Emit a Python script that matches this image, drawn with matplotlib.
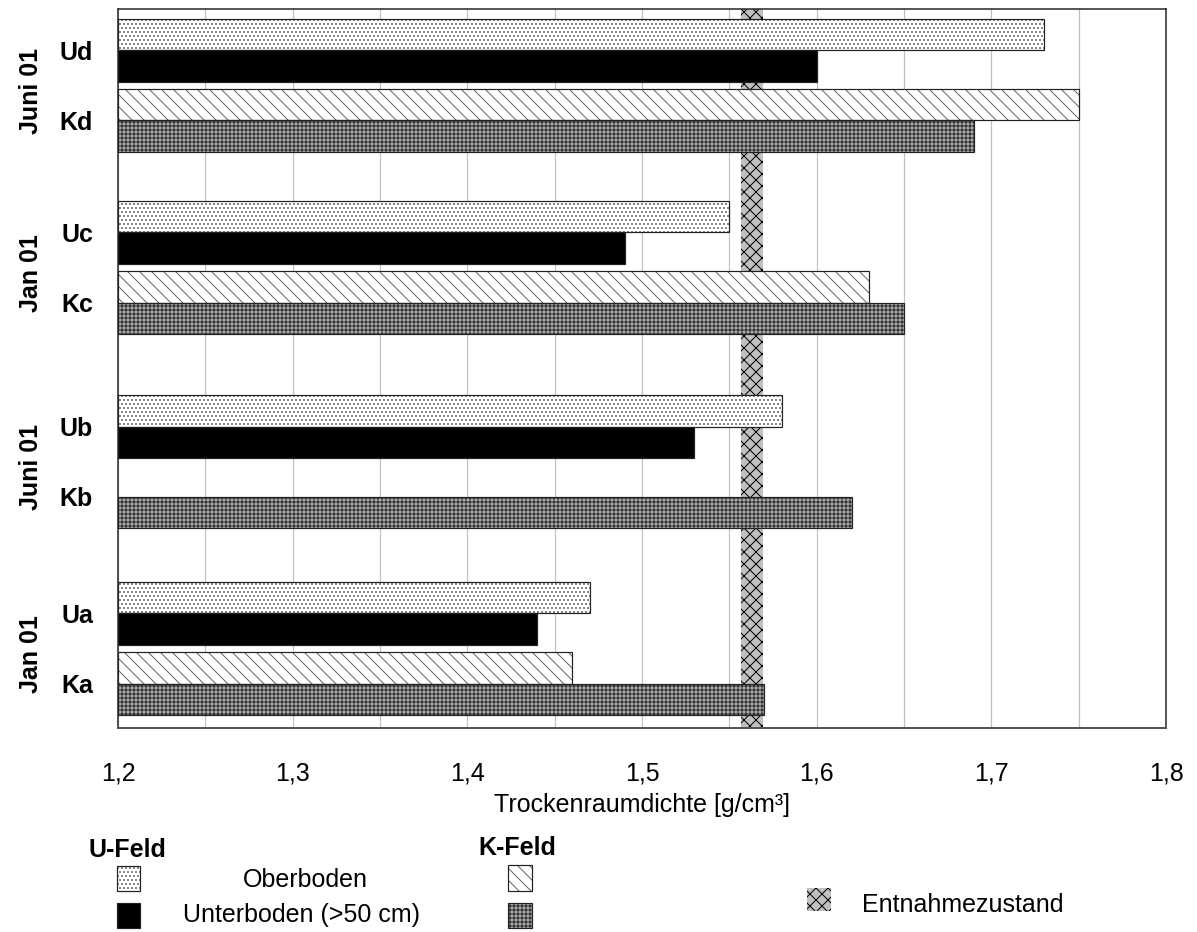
import numpy as np
import matplotlib.pyplot as plt
from matplotlib.patches import Rectangle

plt.rcParams['font.family'] = ['Liberation Sans', 'DejaVu Sans']
plt.rcParams['hatch.linewidth'] = 1.0

# groups from top to bottom
plots = ['d', 'c', 'b', 'a']
dates = ['Juni 01', 'Jan 01', 'Juni 01', 'Jan 01']
u_ober = [1.73, 1.55, 1.58, 1.47]
u_unter = [1.60, 1.49, 1.53, 1.44]
k_ober = [1.75, 1.63, np.nan, 1.46]
k_unter = [1.69, 1.65, 1.62, 1.57]
entnahme = (1.5565, 1.5695)
xticks = [1.2, 1.3, 1.4, 1.5, 1.6, 1.7, 1.8]

W, H = 1197, 932
fig = plt.figure(figsize=(W / 72, H / 72), dpi=72)
ax = fig.add_axes([118 / W, 1 - 728 / H, 1048 / W, 718.7 / H])

# group offsets (in bar heights) as laid out in the original
top = np.array([0.31, 6.13, 12.33, 18.3])
pos_uo = top + 0.5
pos_uu = top + 1.5
pos_ko = top + 2.74
pos_ku = top + 3.74

styles = [
    (u_ober, pos_uo, 'white', '...', '#555555'),
    (u_unter, pos_uu, 'black', None, 'black'),
    (k_ober, pos_ko, 'white', '\\\\', '#666666'),
    (k_unter, pos_ku, '#a8a8a8', '+++', '#333333'),
]
for vals, pos, fc, hatch, hc in styles:
    vals = np.array(vals, dtype=float)
    ax.barh(pos, vals - 1.2, left=1.2, height=1.0, color=fc, hatch=hatch,
            edgecolor=hc, linewidth=0, zorder=3)
    ax.barh(pos, vals - 1.2, left=1.2, height=1.0, fill=False,
            edgecolor='#222222', linewidth=1.2, zorder=4)

ax.axvspan(entnahme[0], entnahme[1], facecolor='#c0c0c0', hatch='xx',
           edgecolor='black', linewidth=0, zorder=2)

ax.set_xlim(1.2, 1.8)
ax.set_ylim(22.96, 0)
ax.set_xticks(xticks)
ax.set_xticklabels([f'{t:.1f}'.replace('.', ',') for t in xticks])
ax.set_xticks(np.arange(1.25, 1.8, 0.1), minor=True)
ax.grid(axis='x', which='both', color='#c0c0c0', linewidth=1.2, zorder=0)
ax.set_axisbelow(True)
ax.tick_params(axis='x', which='both', length=0, labelsize=25, pad=33)
ax.set_xlabel('Trockenraumdichte [g/cm³]', fontsize=25, labelpad=8)

ax.set_yticks(np.concatenate([top + 1.0, top + 3.24]))
ax.set_yticklabels(['U' + p for p in plots] + ['K' + p for p in plots],
                   fontsize=25, fontweight='bold')
ax.tick_params(axis='y', length=0, pad=25)

for t, d in zip(top, dates):
    ax.text(-0.083, t + 2.3, d, transform=ax.get_yaxis_transform(),
            rotation=90, ha='center', va='center', fontsize=25,
            fontweight='bold')

for s in ax.spines.values():
    s.set_color('#222222')
    s.set_linewidth(1.5)
ax.spines['bottom'].set_color('#555555')
ax.spines['bottom'].set_linewidth(2)

# legend drawn in pixel coordinates
lg = fig.add_axes([0, 0, 1, 1])
lg.set_xlim(0, W)
lg.set_ylim(H, 0)
lg.axis('off')
lg.patch.set_visible(False)

lg.text(89, 857, 'U-Feld', fontsize=25, fontweight='bold', va='baseline')
lg.text(478, 855, 'K-Feld', fontsize=25, fontweight='bold', va='baseline')
lg.text(243, 887, 'Oberboden', fontsize=25, va='baseline')
lg.text(183, 922, 'Unterboden (>50 cm)', fontsize=25, va='baseline')
lg.text(862, 912, 'Entnahmezustand', fontsize=25, va='baseline')

boxes = [
    ((117, 866, 23, 25), 'white', '...', '#555555'),
    ((117, 903, 23, 25), 'black', None, 'black'),
    ((508, 865, 24, 26), 'white', '\\\\', '#666666'),
    ((508, 903, 24, 25), '#a8a8a8', '+++', '#333333'),
    ((807, 888, 24, 23), '#c0c0c0', 'xx', 'black'),
]
for (x, y, w, h), fc, hatch, hc in boxes:
    lg.add_patch(Rectangle((x, y), w, h, facecolor=fc, hatch=hatch,
                           edgecolor=hc, linewidth=0))
    if hatch != 'xx':
        lg.add_patch(Rectangle((x, y), w, h, fill=False,
                               edgecolor='#222222', linewidth=1.2))

fig.savefig('out.png', dpi=72)
